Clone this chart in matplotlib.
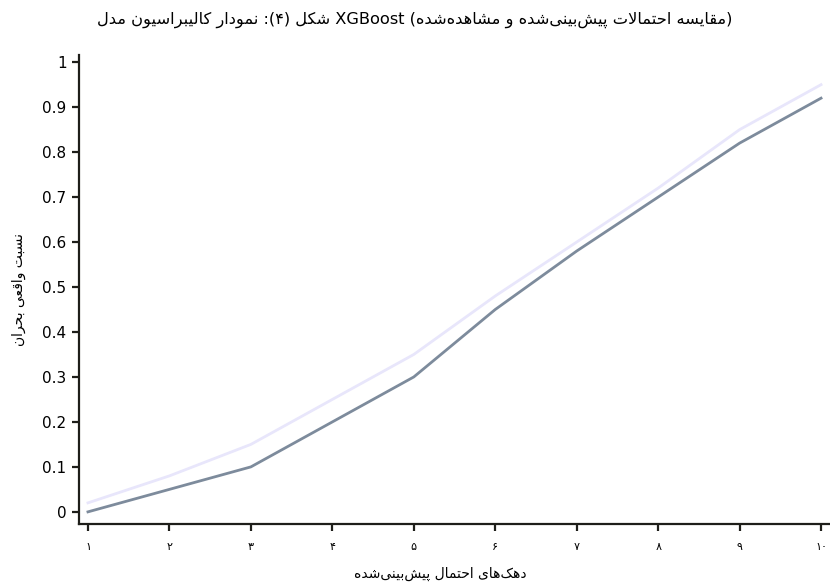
import numpy as np
import matplotlib
matplotlib.use("Agg")
import matplotlib.pyplot as plt

# داده‌ها
dahak = [1, 2, 3, 4, 5, 6, 7, 8, 9, 10]
observed = [0.00, 0.05, 0.10, 0.20, 0.30, 0.45, 0.58, 0.70, 0.82, 0.92]
predicted = [0.02, 0.08, 0.15, 0.25, 0.35, 0.48, 0.60, 0.72, 0.85, 0.95]
x_ticklabels = ["۱", "۲", "۳", "۴", "۵", "۶", "۷", "۸", "۹", "۱۰"]
y_ticks = [0, 0.1, 0.2, 0.3, 0.4, 0.5, 0.6, 0.7, 0.8, 0.9, 1]
y_ticklabels = ["0", "0.1", "0.2", "0.3", "0.4", "0.5", "0.6", "0.7", "0.8", "0.9", "1"]

title = "(مقایسه احتمالات پیش‌بینی‌شده و مشاهده‌شده) XGBoost شکل (۴): نمودار کالیبراسیون مدل"
xlabel = "دهک‌های احتمال پیش‌بینی‌شده"
ylabel = "نسبت واقعی بحران"

# presentation forms: isolated, final, initial, medial
FORMS = {
    "ا": ("\uFE8D", "\uFE8E", None, None),
    "ب": ("\uFE8F", "\uFE90", "\uFE91", "\uFE92"),
    "پ": ("\uFB56", "\uFB57", "\uFB58", "\uFB59"),
    "ت": ("\uFE95", "\uFE96", "\uFE97", "\uFE98"),
    "ح": ("\uFEA1", "\uFEA2", "\uFEA3", "\uFEA4"),
    "د": ("\uFEA9", "\uFEAA", None, None),
    "ر": ("\uFEAD", "\uFEAE", None, None),
    "س": ("\uFEB1", "\uFEB2", "\uFEB3", "\uFEB4"),
    "ش": ("\uFEB5", "\uFEB6", "\uFEB7", "\uFEB8"),
    "ع": ("\uFEC9", "\uFECA", "\uFECB", "\uFECC"),
    "ق": ("\uFED5", "\uFED6", "\uFED7", "\uFED8"),
    "ک": ("\uFB8E", "\uFB8F", "\uFB90", "\uFB91"),
    "ل": ("\uFEDD", "\uFEDE", "\uFEDF", "\uFEE0"),
    "م": ("\uFEE1", "\uFEE2", "\uFEE3", "\uFEE4"),
    "ن": ("\uFEE5", "\uFEE6", "\uFEE7", "\uFEE8"),
    "ه": ("\uFEE9", "\uFEEA", "\uFEEB", "\uFEEC"),
    "و": ("\uFEED", "\uFEEE", None, None),
    "ی": ("\uFBFC", "\uFBFD", "\uFBFE", "\uFBFF"),
    "LA": ("\uFEFB", "\uFEFC", None, None),
}
ZWNJ = "\u200c"
MIRROR = {"(": ")", ")": "("}


def shape_run(run):
    # glyphs in logical order
    seq = []
    i = 0
    while i < len(run):
        if run[i] == "ل" and i + 1 < len(run) and run[i + 1] == "ا":
            seq.append("LA")
            i += 2
        else:
            seq.append(run[i])
            i += 1
    out = []
    for j, c in enumerate(seq):
        if c not in FORMS:
            continue
        prev = j > 0 and seq[j - 1] in FORMS and FORMS[seq[j - 1]][2] is not None
        nxt = FORMS[c][2] is not None and j + 1 < len(seq) and seq[j + 1] in FORMS
        if prev and nxt:
            k = 3
        elif prev:
            k = 1
        elif nxt:
            k = 2
        else:
            k = 0
        out.append(FORMS[c][k])
    return out


def kind(ch):
    if ch in FORMS or ch == ZWNJ:
        return "ar"
    if ch.isalnum():
        return "ltr"
    return "n"


def fa(text):
    # right-to-left paragraph -> left-to-right glyph string
    vis_tokens = []
    for tok in text.split(" "):
        segs = []
        for ch in tok:
            k = kind(ch)
            if segs and segs[-1][0] == k and k != "n":
                segs[-1][1] += ch
            else:
                segs.append([k, ch])
        parts = []
        for k, s in reversed(segs):
            if k == "ar":
                parts.append("".join(reversed(shape_run(s))))
            elif k == "ltr":
                parts.append(s)
            else:
                parts.append(MIRROR.get(s, s))
        vis_tokens.append("".join(parts))
    return " ".join(reversed(vis_tokens))


plt.rcParams["font.family"] = ["DejaVu Sans"]

fig = plt.figure(figsize=(8.3, 5.87), dpi=100)
ax = fig.add_axes([79 / 830, 1 - 524 / 587, 751 / 830, 469 / 587])

ax.plot(dahak, predicted, color="#e8e6fb", linewidth=2)
ax.plot(dahak, observed, color="#7d8b9c", linewidth=2)

ax.set_xlim(0.89, 10.11)
ax.set_ylim(-0.027, 1.016)
ax.set_xticks(dahak)
ax.set_xticklabels(x_ticklabels, fontsize=8)
ax.set_yticks(y_ticks)
ax.set_yticklabels(y_ticklabels, fontsize=11)

for s in ["top", "right"]:
    ax.spines[s].set_visible(False)
for s in ["left", "bottom"]:
    ax.spines[s].set_linewidth(1.6)
    ax.spines[s].set_color("#1e1e1a")
ax.tick_params(axis="both", direction="out", length=5, width=1.6, color="#1e1e1a")
ax.tick_params(axis="x", pad=8)
ax.tick_params(axis="y", pad=4)

ax.set_xlabel(fa(xlabel), fontsize=10)
ax.xaxis.set_label_coords((440 - 79) / 751, -43 / 469)
ax.set_ylabel(fa(ylabel), fontsize=10, labelpad=12)
fig.text(0.5, 1 - 20 / 587, fa(title), ha="center", va="center", fontsize=11.7)

fig.savefig("out.png", dpi=100)
